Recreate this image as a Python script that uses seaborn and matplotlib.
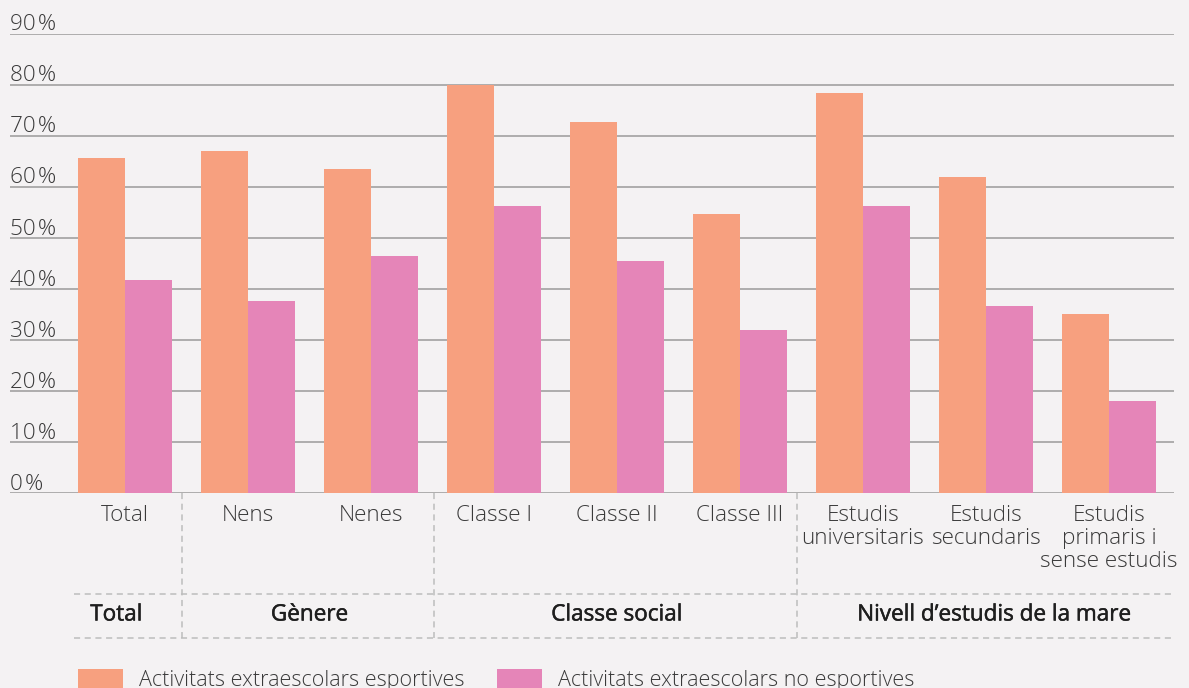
import matplotlib
matplotlib.use("Agg")
import matplotlib.pyplot as plt
import matplotlib.patheffects as pe
import seaborn as sns
import pandas as pd

# ---- data ----
categories = ["Total", "Nens", "Nenes", "Classe I", "Classe II", "Classe III",
              "Estudis\nuniversitaris", "Estudis\nsecundaris",
              "Estudis\nprimaris i\nsense estudis"]
esportives = [65.7, 67.1, 63.5, 80.0, 72.8, 54.7, 78.5, 62.0, 35.2]
no_esportives = [41.8, 37.7, 46.5, 56.3, 45.5, 32.0, 56.3, 36.7, 18.1]
series_names = ["Activitats extraescolars esportives",
                "Activitats extraescolars no esportives"]
group_labels = ["Total", "Gènere", "Classe social", "Nivell d\u2019estudis de la mare"]
y_ticks = [0, 10, 20, 30, 40, 50, 60, 70, 80, 90]

# ---- layout / style (positions of decorations, in category units) ----
group_label_x = [-0.07, 1.5, 4.0, 7.07]
separator_x = [0.465, 2.51, 5.465]
BG = "#f4f2f3"
ORANGE = "#f7a07f"
PINK = "#e585b8"
GRID = "#9a9a9a"
DASH = "#bdbdbd"
TXT = "#3a3a3a"
FONT = ["Open Sans", "DejaVu Sans"]
FS = 16.2
FS_LEG = 15.5

sns.set_theme(style="white")
plt.rcParams["font.family"] = FONT

df = pd.DataFrame({
    "cat": categories * 2,
    "val": esportives + no_esportives,
    "series": [series_names[0]] * len(categories) + [series_names[1]] * len(categories),
})

W, H = 1189, 688
Y0, Y90 = 493.3, 34.0
fig = plt.figure(figsize=(W / 100, H / 100), dpi=100, facecolor=BG)
ax = fig.add_axes([10 / W, (H - Y0) / H, 1164 / W, (Y0 - Y90) / H])
ax.set_facecolor(BG)

sns.barplot(data=df, x="cat", y="val", hue="series", palette=[ORANGE, PINK],
            width=0.76, gap=0, saturation=1, ax=ax, legend=True, errorbar=None,
            linewidth=0, edgecolor="none")
handles, labels = ax.get_legend_handles_labels()
ax.get_legend().remove()

ax.set_xlim(-0.935, 8.53)
ax.set_ylim(0, 90)
ax.set_yticks(y_ticks)
ax.set_yticklabels([])
ax.tick_params(axis="y", length=0)
ax.grid(axis="y", color=GRID, linewidth=1.1)
ax.set_axisbelow(True)
for s in ax.spines.values():
    s.set_visible(False)
ax.set_xlabel("")
ax.set_ylabel("")

for t in y_ticks:
    ax.annotate(f"{t}\u200a%", xy=(0, t), xycoords=("axes fraction", "data"),
                xytext=(0, 2.6), textcoords="offset points", ha="left", va="baseline",
                fontsize=FS, color=TXT, fontweight="light", family=FONT)

ax.set_xticks(range(len(categories)))
ax.set_xticklabels(categories, fontsize=FS, color=TXT, fontweight="light",
                   linespacing=1.13)
ax.tick_params(axis="x", length=0, pad=8.5)

# dashed separators
xt = ax.get_xaxis_transform()
y_mid = (Y0 - 594) / (Y0 - Y90)
y_bot = (Y0 - 638) / (Y0 - Y90)
for b in separator_x:
    ax.plot([b, b], [0, y_bot], transform=xt, clip_on=False, color=DASH,
            linestyle=(0, (4, 3)), linewidth=1.1)
for yy in (y_mid, y_bot):
    ax.plot([-0.415, 8.53], [yy, yy], transform=xt, clip_on=False, color=DASH,
            linestyle=(0, (4, 3)), linewidth=1.1)

y_grp = (Y0 - 615) / (Y0 - Y90)
for lab, cx in zip(group_labels, group_label_x):
    ax.text(cx, y_grp, lab, transform=xt, ha="center", va="center",
            fontsize=FS, color="#1e1e1e", fontweight="normal", family=FONT,
            path_effects=[pe.withStroke(linewidth=0.35, foreground="#1e1e1e")])

leg = fig.legend(handles, labels, loc="upper left", bbox_to_anchor=(78 / W, 1 - 669 / H),
                 ncol=2, frameon=False, fontsize=FS_LEG, borderpad=0, borderaxespad=0,
                 handlelength=2.1, handleheight=0.95, handletextpad=0.75,
                 columnspacing=1.5)
for t in leg.get_texts():
    t.set_color(TXT)
    t.set_fontweight("light")

fig.savefig("out.png", dpi=100, facecolor=BG)
